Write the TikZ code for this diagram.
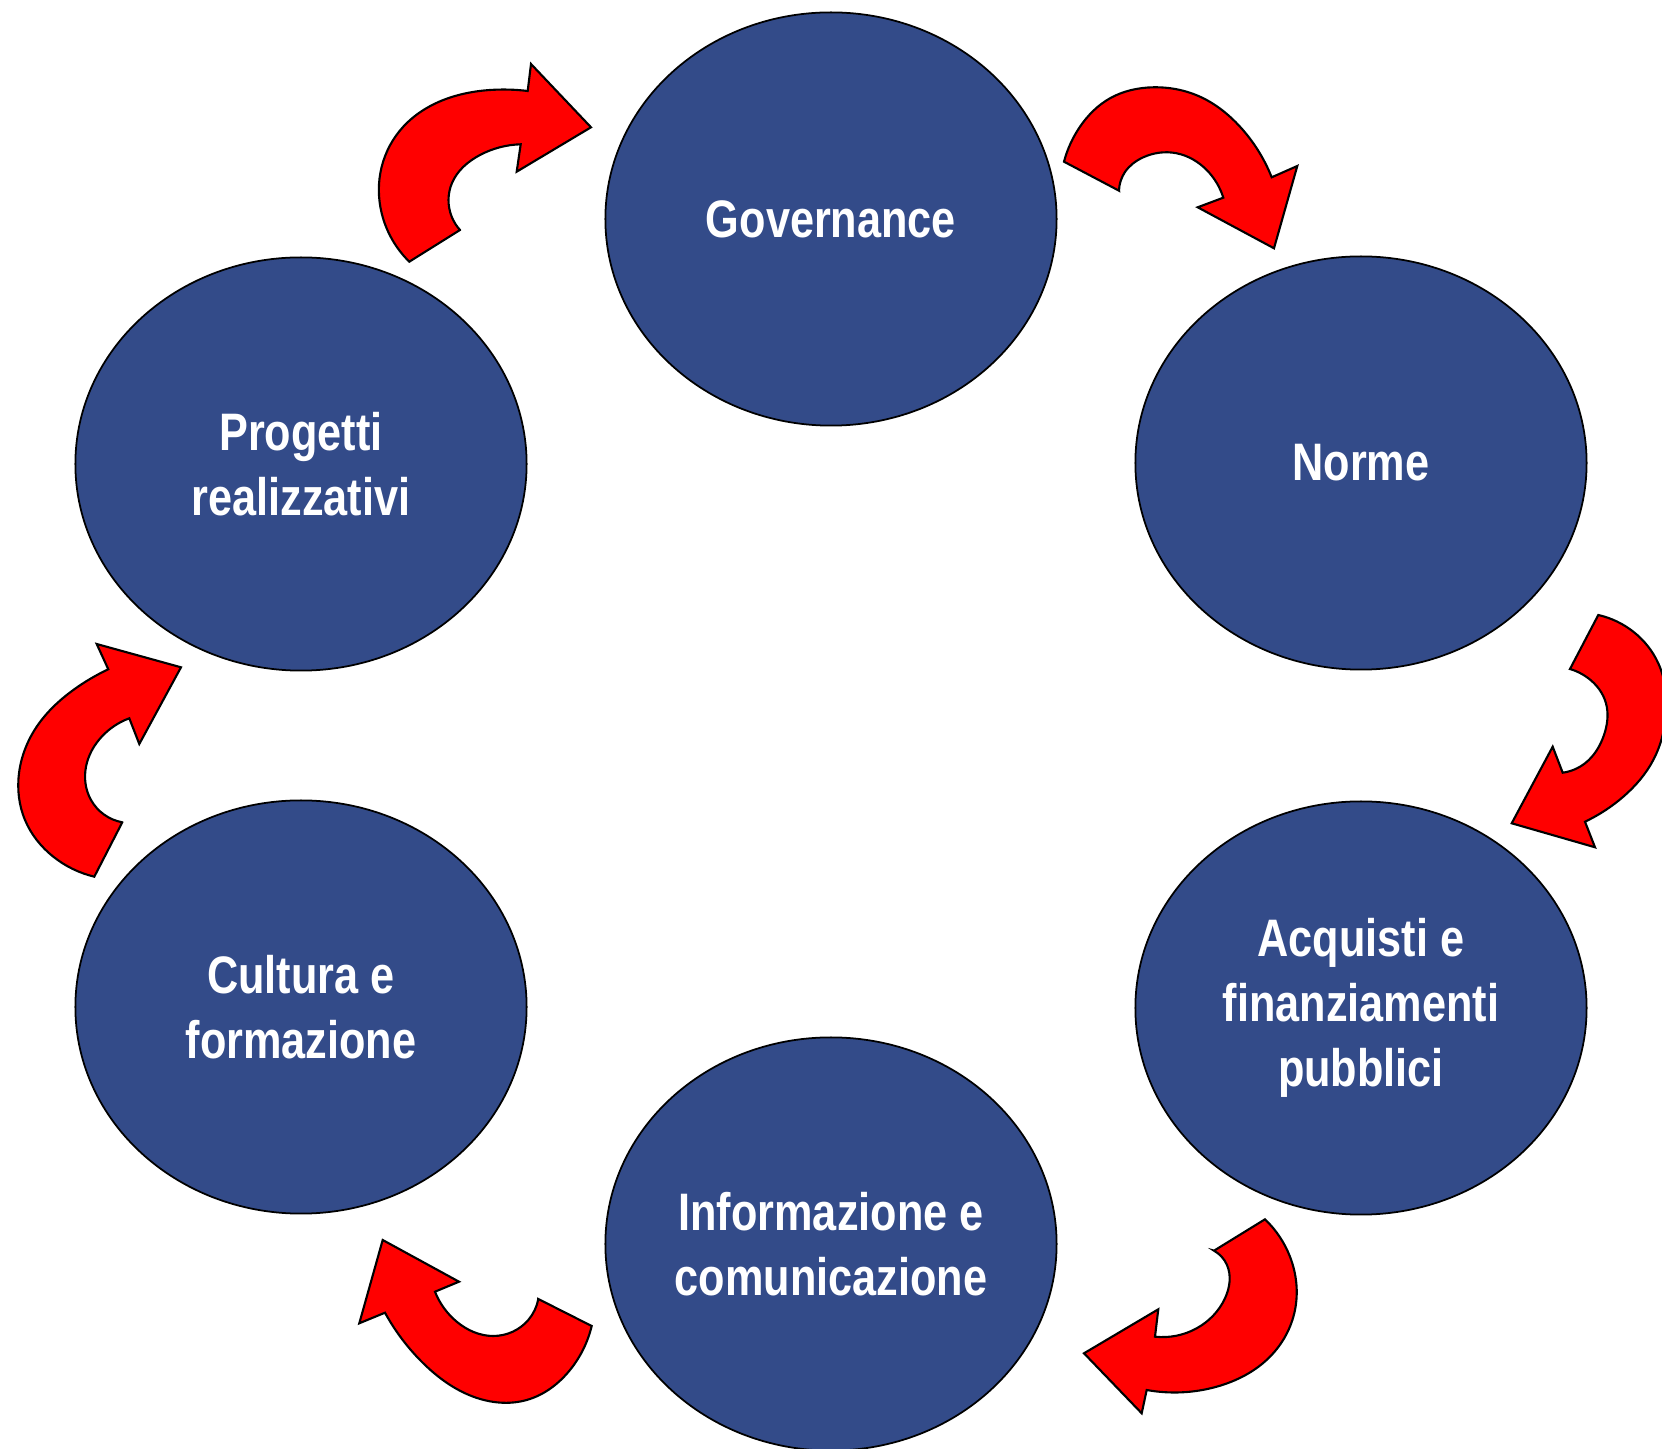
\documentclass[tikz,border=0pt]{standalone}
\usepackage{fontspec}
\setmainfont{Liberation Sans}[FakeStretch=0.82]
\usetikzlibrary{shapes.geometric,hobby}
\definecolor{bubblue}{RGB}{51,75,137}
\definecolor{arrred}{RGB}{255,0,0}
\tikzset{
  bub/.style={ellipse, draw=black, line width=0.5pt, fill=bubblue,
    minimum width=4.51cm, minimum height=4.13cm, inner sep=0pt,
    text=white, align=center, font=\fontsize{15}{18.4}\selectfont\bfseries},
  carrow/.style={draw=black, line width=0.6pt, fill=arrred, line join=miter}
}
\begin{document}
\begin{tikzpicture}[x=0.01cm, y=-0.01cm]
\useasboundingbox (0,0) rectangle (1662,1449);
\begin{scope}
\clip (0,0) rectangle (1662,1449);
% nodes
\node[bub] (gov) at (831,219) {Governance};
\node[bub] (nor) at (1361,463) {Norme};
\node[bub] (acq) at (1361,1008) {Acquisti e\\finanziamenti\\pubblici};
\node[bub] (inf) at (831,1244) {Informazione e\\comunicazione};
\node[bub] (cul) at (301,1007) {Cultura e\\formazione};
\node[bub] (pro) at (301,464) {Progetti\\realizzativi};

% arrow: Progetti -> Governance (top-left)
\draw[carrow] (460,230) -- (409.3,261.7)
  to[curve through={(381.7,213.3) .. (381.7,166.7) .. (403.3,126.7) .. (443.3,100) .. (490,90)}] (527.7,91)
  -- (531,64) -- (591,127.3) -- (516.7,171.7) -- (520.7,144.3)
  to[curve through={(480,155) .. (452,183) .. (451.7,216.7)}] (460,230)
  -- cycle;

% arrow: Governance -> Norme (top-right)
\draw[carrow] (1119,190.7) -- (1064,161.7)
  to[curve through={(1080,126.7) .. (1110,98.3) .. (1153.3,87.3) .. (1200,96.7) .. (1240,126.7)}] (1271.7,177.3)
  -- (1297.3,166) -- (1274,248.3) -- (1197.7,207.3) -- (1223.3,197.7)
  to[curve through={(1206.7,170) .. (1176.7,153.3) .. (1143.3,157.3) .. (1125,172)}] (1119,190.7)
  -- cycle;

% arrow: Norme -> Acquisti (right)
\draw[carrow] (1570,669) -- (1598.3,615)
  to[curve through={(1633.3,631.7) .. (1658.3,663.3) .. (1666,715) .. (1653.3,760) .. (1623.3,796.7)}] (1585,821.7)
  -- (1595,847.3) -- (1511.7,823.3) -- (1552.7,746.7) -- (1562.7,772.7)
  to[curve through={(1585,763.3) .. (1604,735) .. (1606,703.3) .. (1588,678)}] (1570,669)
  -- cycle;

% arrow: Acquisti -> Informazione (bottom-right)
\draw[carrow] (1214,1250.7) -- (1265,1219.3)
  to[curve through={(1290,1256.7) .. (1295,1310) .. (1270,1356.7) .. (1216.7,1386.7)}] (1146.7,1390)
  -- (1141.7,1413.3) -- (1084,1353.3) -- (1158.3,1309.3) -- (1155,1336.7)
  to[curve through={(1196.7,1328.3) .. (1225,1298.3) .. (1227,1265)}] (1214,1250.7)
  -- cycle;

% arrow: Informazione -> Cultura (bottom-left)
\draw[carrow] (538.3,1299) -- (591.7,1326)
  to[curve through={(570,1370) .. (526.7,1400) .. (473.3,1396.7) .. (423.3,1363.3)}] (385,1312.7)
  -- (359.3,1323.3) -- (382.7,1240) -- (459,1281.7) -- (435,1291.7)
  to[curve through={(456.7,1321.7) .. (493.3,1336) .. (528.3,1320)}] (538.3,1299)
  -- cycle;

% arrow: Cultura -> Progetti (left)
\draw[carrow] (122.3,822.3) -- (94.3,876.7)
  to[curve through={(53.3,856.7) .. (25,820) .. (19,773.3) .. (36.7,726.7) .. (73.3,690)}] (108.3,669.3)
  -- (96.7,644) -- (181,667.3) -- (139.3,744) -- (129.3,718.3)
  to[curve through={(101.7,736.7) .. (86,766.7) .. (91,800)}] (122.3,822.3)
  -- cycle;
\end{scope}
\end{tikzpicture}
\end{document}
